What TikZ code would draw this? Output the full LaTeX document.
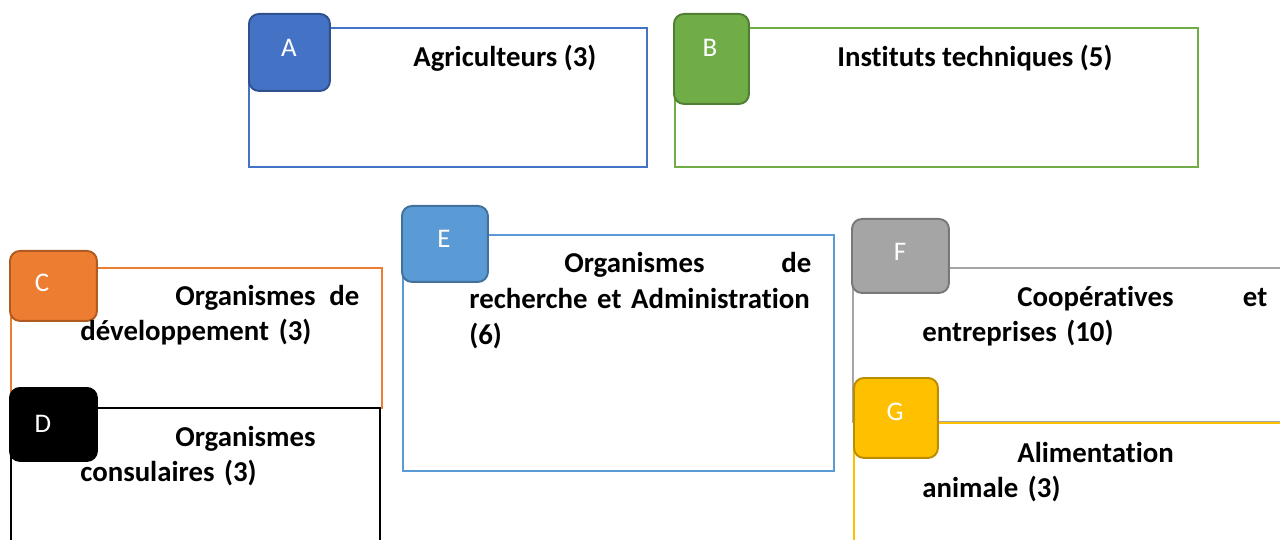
\documentclass[tikz,border=0pt]{standalone}
\usepackage{fontspec}
\setmainfont[Ligatures=NoCommon]{Carlito}
\usetikzlibrary{positioning}

\definecolor{cA}{HTML}{4472C4}\definecolor{bA}{HTML}{2F528F}
\definecolor{cB}{HTML}{70AD47}\definecolor{bB}{HTML}{507E32}
\definecolor{cC}{HTML}{ED7D31}\definecolor{bC}{HTML}{AE5A21}
\definecolor{cE}{HTML}{5B9BD5}\definecolor{bE}{HTML}{41719C}
\definecolor{cF}{HTML}{A5A5A5}\definecolor{bF}{HTML}{787878}
\definecolor{cG}{HTML}{FFC000}\definecolor{bG}{HTML}{BC8C00}

\newcommand{\ind}{\hspace*{19mm}}

\begin{document}
\begin{tikzpicture}[
    x=0.02cm, y=-0.02cm,
    frame/.style={rectangle, draw, fill=white, line width=1.1pt, anchor=north west, inner sep=0pt},
    tag/.style={rectangle, rounded corners=2mm, line width=1.1pt, anchor=north west, inner sep=0pt},
    letter/.style={anchor=base, inner sep=0pt, text=white, font=\fontsize{15.3}{18}\selectfont},
    txt/.style={anchor=base west, inner sep=0pt, align=left, font=\bfseries\fontsize{16.4}{20.4}\selectfont}
]
\clip (0,0) rectangle (1280,540);

% top row
\node[frame, draw=cA, minimum width=79.6mm, minimum height=27.8mm] (fA) at (248,27) {};
\node[frame, draw=cB, minimum width=104.6mm, minimum height=27.8mm] (fB) at (674,27) {};
\node[tag, fill=cA, draw=bA, minimum width=16.2mm, minimum height=15.4mm] (tA) at (248,13) {};
\node[tag, fill=cB, draw=bB, minimum width=15mm, minimum height=18mm] (tB) at (673,13) {};
\node[letter] (lA) at (289,57) {A};
\node[letter] (lB) at (710,57) {B};
\node[txt] (xA) at (413,67) {Agriculteurs (3)};
\node[txt] (xB) at (837,67) {Instituts techniques (5)};

% left column
\node[frame, draw=cC, minimum width=74.2mm, minimum height=28mm] (fC) at (10,267) {};
\node[frame, draw=black, minimum width=73.8mm, minimum height=30mm] (fD) at (10,407) {};
\node[tag, fill=cC, draw=bC, minimum width=17.4mm, minimum height=14mm] (tC) at (9,250) {};
\node[tag, fill=black, draw=black, minimum width=17.4mm, minimum height=14.6mm] (tD) at (9,387) {};
\node[letter] (lC) at (42,292) {C};
\node[letter] (lD) at (43,432) {D};
\node[txt, text width=55.8mm] (xC) at (80,305) {\ind Organismes\hfill de\\développement (3)};
\node[txt, text width=55.8mm] (xD) at (80,446) {\ind Organismes\\consulaires (3)};

% middle
\node[frame, draw=cE, minimum width=86.2mm, minimum height=47.2mm] (fE) at (402,234) {};
\node[tag, fill=cE, draw=bE, minimum width=17.2mm, minimum height=15.2mm] (tE) at (401,205) {};
\node[letter] (lE) at (444,248) {E};
\node[txt, text width=68.4mm] (xE) at (469,273) {\ind Organismes\hfill de\\recherche et Administration\\(6)};

% right column
\node[frame, draw=cF, minimum width=100mm, minimum height=30.8mm] (fF) at (852,267) {};
\node[frame, draw=cG, minimum width=100mm, minimum height=30mm] (fG) at (853,422) {};
\node[tag, fill=cF, draw=bF, minimum width=19.4mm, minimum height=14.8mm] (tF) at (851,218) {};
\node[tag, fill=cG, draw=bG, minimum width=16.8mm, minimum height=16mm] (tG) at (853,377) {};
\node[letter] (lF) at (900,261) {F};
\node[letter] (lG) at (895,420) {G};
\node[txt, text width=69mm] (xF) at (922,306) {\ind Coopératives\hfill et\\entreprises (10)};
\node[txt, text width=69mm] (xG) at (922,462) {\ind Alimentation\\animale (3)};

\end{tikzpicture}
\end{document}
